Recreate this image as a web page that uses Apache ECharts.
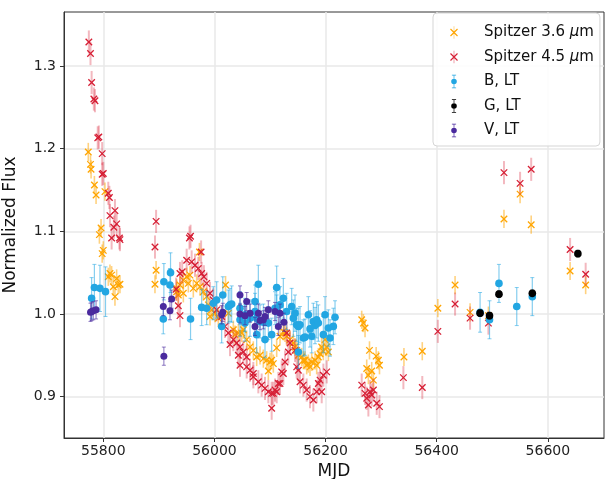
<!DOCTYPE html>
<html><head><meta charset="utf-8">
<script src="https://cdn.jsdelivr.net/npm/echarts@6/dist/echarts.min.js"></script>
<style>html,body{margin:0;padding:0;background:#fff}#c{width:606px;height:479px}</style>
</head><body><div id="c"></div>
<script>
// ---------- data ----------
const xTicks = [55800, 56000, 56200, 56400, 56600];
const yTicks = [0.9, 1.0, 1.1, 1.2, 1.3];

const s36Mjd = [55773,55777,55778,55784,55787,55803,55793,55796,55798,55800,55809,55812,55815,55818,55821,55824,55827,55830,
  55893,55895,
  55932,55932,55935,55938,55944,55944,55950,55953,55956,55962,55968,55973,55974,55980,55986,55989,55992,55995,56001,56007,56020,
  56025,56034,56037,56043,56049,56052,56058,56064,56070,56076,56082,56088,56094,56097,56100,56103,56106,56112,56118,56124,56127,56130,56136,56142,56145,56148,56151,56157,56160,56163,56166,56169,56172,56175,56181,56184,56187,56190,56193,56196,56199,56202,56205,
  56265,56268,56271,56274,56277,56279,56283,56286,56291,56295,56297,56341,56374,56402,56433,56460,56493,56521,56550,56570,56640,56668];
const s36Flux = [1.196,1.181,1.175,1.156,1.144,1.148,1.096,1.104,1.073,1.077,1.045,1.049,1.047,1.033,1.021,1.043,1.035,1.036,
  1.036,1.053,
  1.031,1.027,1.023,1.035,1.041,1.025,1.045,1.037,1.047,1.031,1.037,1.075,1.033,1.027,1.021,1.011,0.997,1.005,1.001,0.995,1.035,
  1.001,0.981,0.975,0.977,0.977,0.981,0.969,0.960,0.956,0.948,0.950,0.946,0.944,0.931,0.942,0.944,0.940,0.959,0.973,0.979,0.977,0.973,0.969,0.965,0.960,0.956,0.950,0.948,0.944,0.944,0.938,0.940,0.936,0.942,0.944,0.938,0.948,0.952,0.960,0.955,0.969,0.960,0.954,
  0.993,0.989,0.983,0.934,0.926,0.956,0.931,0.920,0.949,0.944,0.938,0.948,0.955,1.007,1.035,1.002,0.998,1.115,1.145,1.108,1.052,1.035];
const s36Err = s36Mjd.map(() => 0.011);

const s45Mjd = [55774,55777,55779,55783,55785,55790,55792,55798,55798,55800,55809,55811,55812,55815,55819,55821,55824,55829,55830,
  55893,55895,
  55931,55935,55938,55938,55942,55950,55955,55957,55959,55965,55971,55976,55977,55981,55986,55992,55998,56004,56013,56019,56025,56028,56034,56040,56043,56046,56046,56052,56058,56058,56064,56070,56070,56079,56085,56091,56097,56103,56103,56106,56109,56112,56115,56118,56121,56124,56127,56130,56133,56136,56145,56148,56151,56154,56160,56166,56172,56178,56184,56187,56190,56193,56196,56202,
  56265,56271,56274,56277,56280,56283,56286,56292,56297,56340,56374,56402,56433,56460,56493,56521,56550,56570,56640,56668];
const s45Flux = [1.329,1.315,1.280,1.260,1.258,1.213,1.214,1.194,1.169,1.170,1.146,1.141,1.119,1.092,1.105,1.125,1.109,1.092,1.090,
  1.081,1.112,
  1.030,1.010,0.998,1.049,1.051,1.065,1.092,1.094,1.063,1.059,1.055,1.075,1.049,1.045,1.037,1.025,1.017,1.005,0.997,0.985,0.977,0.963,0.969,0.965,0.950,0.960,0.938,0.954,0.948,0.936,0.932,0.924,0.928,0.918,0.914,0.910,0.906,0.904,0.886,0.904,0.908,0.906,0.916,0.916,0.930,0.928,0.942,0.977,0.954,0.965,0.956,0.936,0.932,0.918,0.914,0.908,0.900,0.896,0.906,0.916,0.920,0.906,0.926,0.930,
  0.914,0.904,0.898,0.890,0.906,0.902,0.908,0.892,0.888,0.923,0.911,0.979,1.012,0.995,0.989,1.171,1.158,1.175,1.078,1.048];
const s45Err = s45Mjd.map(() => 0.014);

const bMjd = [55779,55784,55794,55804,
  55908,55909,55920,55921,55957,55977,55986,55998,56004,56013,56015,56025,56028,56031,56046,56046,56055,56055,56064,56073,56073,56076,56076,56079,56082,56088,56091,56097,56103,56109,56112,56112,56118,56124,56130,56139,56142,56145,56148,56151,56151,56154,56160,56163,56169,56172,56175,56178,56181,56184,56187,56196,56199,56205,56208,56214,56217,
  56478,56495,56512,56544,56572];
const bFlux = [1.019,1.032,1.031,1.027,
  0.994,1.039,1.035,1.050,0.994,1.008,1.007,1.013,1.017,0.985,1.023,1.009,1.011,1.012,0.993,1.007,0.999,0.989,0.995,1.003,1.015,0.995,0.975,1.036,0.991,0.990,0.969,0.989,0.975,1.007,1.032,1.003,1.011,1.019,1.003,1.009,0.995,1.001,0.987,0.954,0.985,0.987,0.971,0.972,0.999,0.982,0.973,0.991,0.986,0.993,0.989,0.975,0.999,0.983,0.971,0.985,0.996,
  1.002,0.993,1.037,1.009,1.021];
const bErr = [0.025,0.028,0.028,0.03,
  0.018,0.022,0.02,0.024,0.025,0.022,0.02,0.02,0.022,0.02,0.022,0.02,0.02,0.022,0.02,0.02,0.02,0.022,0.022,0.022,0.02,0.02,0.022,0.023,0.02,0.022,0.022,0.02,0.02,0.02,0.026,0.02,0.022,0.024,0.022,0.022,0.022,0.022,0.02,0.02,0.022,0.022,0.022,0.022,0.022,0.022,0.02,0.022,0.022,0.022,0.022,0.022,0.022,0.022,0.022,0.022,0.02,
  0.024,0.023,0.023,0.023,0.023];

const gMjd = [56478,56495,56512,56572,56654];
const gFlux = [1.001,0.998,1.024,1.025,1.073];
const gErr = [0.004,0.004,0.004,0.004,0.004];

const vMjd = [55777,55779,55782,55787,
  55908,55909,55920,55923,56013,56015,56046,56046,56055,56058,56064,56073,56079,56082,56088,56091,56097,56109,56115,56118,56125];
const vFlux = [1.002,1.003,1.004,1.005,
  1.009,0.949,1.004,1.018,0.999,1.002,1.023,1.000,0.998,1.015,1.001,0.985,1.001,0.992,0.993,0.997,1.005,1.003,0.985,1.001,0.990];
const vErr = vMjd.map(() => 0.011);

// ---------- rendering ----------
function rows(m, f, e) { return m.map((x, i) => [x, f[i], e[i]]); }

function errRender(color, capHalf, width) {
  return function (params, api) {
    const x = api.value(0), y = api.value(1), e = api.value(2);
    const t = api.coord([x, y + e]), b = api.coord([x, y - e]);
    const ch = [{ type: 'line', shape: { x1: t[0], y1: t[1], x2: b[0], y2: b[1] }, style: { stroke: color, lineWidth: width } }];
    if (capHalf > 0) {
      ch.push({ type: 'line', shape: { x1: t[0] - capHalf, y1: t[1], x2: t[0] + capHalf, y2: t[1] }, style: { stroke: color, lineWidth: 1 } });
      ch.push({ type: 'line', shape: { x1: b[0] - capHalf, y1: b[1], x2: b[0] + capHalf, y2: b[1] }, style: { stroke: color, lineWidth: 1 } });
    }
    return { type: 'group', children: ch };
  };
}
function xRender(color, size, lw) {
  return function (params, api) {
    const p = api.coord([api.value(0), api.value(1)]);
    const h = size / 2;
    return { type: 'group', children: [
      { type: 'line', shape: { x1: p[0] - h, y1: p[1] - h, x2: p[0] + h, y2: p[1] + h }, style: { stroke: color, lineWidth: lw } },
      { type: 'line', shape: { x1: p[0] - h, y1: p[1] + h, x2: p[0] + h, y2: p[1] - h }, style: { stroke: color, lineWidth: lw } }
    ] };
  };
}
function dotRender(color, r) {
  return function (params, api) {
    const p = api.coord([api.value(0), api.value(1)]);
    return { type: 'circle', shape: { cx: p[0], cy: p[1], r: r }, style: { fill: color } };
  };
}

const C36 = '#ffa500', C45 = '#d61f35', CB = '#22a6e2', CG = '#000000', CV = '#4a2a9e';
const N36 = 'Spitzer 3.6 μm', N45 = 'Spitzer 4.5 μm', NB = 'B, LT', NG = 'G, LT', NV = 'V, LT';

const box = 'M0,0L0.01,0.01Z M20,20L19.99,19.99Z ';
const xIcon = 'path://' + box +
  'M4.43,5.57L14.43,15.57L15.57,14.43L5.57,4.43Z ' +
  'M14.43,4.43L4.43,14.43L5.57,15.57L15.57,5.57Z ' +
  'M9.7,1L9.7,19L10.3,19L10.3,1Z';
const dotIcon = 'path://' + box +
  'M6,10A4,4 0 1,0 14,10A4,4 0 1,0 6,10Z ' +
  'M9.5,1L9.5,6.5L10.5,6.5L10.5,1Z M9.5,13.5L9.5,19L10.5,19L10.5,13.5Z ' +
  'M7,0.5L7,1.5L13,1.5L13,0.5Z M7,18.5L7,19.5L13,19.5L13,18.5Z';

function custom(name, data, render, z) {
  return { type: 'custom', name: name, coordinateSystem: 'cartesian2d', data: data, renderItem: render,
    encode: { x: 0, y: 1 }, animation: false, silent: true, z: z };
}

const chart = echarts.init(document.getElementById('c'), null, { renderer: 'canvas' });
const FONT = 'DejaVu Sans';
chart.setOption({
  animation: false,
  backgroundColor: '#fff',
  grid: { left: 64, right: 2, top: 12, bottom: 41, outerBoundsMode: 'none', containLabel: false,
    show: true, borderColor: '#333', borderWidth: 1, backgroundColor: 'transparent' },
  xAxis: {
    type: 'value', min: 55729.3, max: 56701,
    name: 'MJD', nameLocation: 'middle', nameGap: 24,
    nameTextStyle: { fontSize: 17, color: '#111', fontFamily: FONT },
    axisLine: { show: true, lineStyle: { color: '#333', width: 1 } },
    axisTick: { show: true, length: 4, customValues: xTicks, lineStyle: { color: '#333' } },
    axisLabel: { customValues: xTicks, fontSize: 14, color: '#222', margin: 6, fontFamily: FONT, formatter: v => String(v) },
    splitLine: { show: true, lineStyle: { color: '#e8e8e8', width: 1.5 } }
  },
  yAxis: {
    type: 'value', min: 0.85, max: 1.3653,
    name: 'Normalized Flux', nameLocation: 'middle', nameGap: 45,
    nameTextStyle: { fontSize: 17, color: '#111', fontFamily: FONT },
    axisLine: { show: true, lineStyle: { color: '#333', width: 1 } },
    axisTick: { show: true, length: 4, customValues: yTicks, lineStyle: { color: '#333' } },
    axisLabel: { customValues: yTicks, fontSize: 14, color: '#222', margin: 8, fontFamily: FONT, formatter: v => v.toFixed(1) },
    splitLine: { show: true, lineStyle: { color: '#e8e8e8', width: 1.5 } }
  },
  legend: {
    orient: 'vertical', left: 433, top: 13,
    padding: [12, 6, 8, 14], itemWidth: 14, itemHeight: 14, itemGap: 9.5,
    backgroundColor: 'rgba(255,255,255,0.85)', borderColor: '#d5d5d5', borderWidth: 1, borderRadius: 4,
    selectedMode: false,
    textStyle: { fontSize: 15, color: '#111', fontFamily: FONT, padding: [0, 0, 0, 18],
      rich: { i: { fontSize: 15, fontStyle: 'italic', fontFamily: FONT, color: '#111' } } },
    formatter: n => n.replace('μ', '{i|μ}'),
    data: [
      { name: N36, icon: xIcon, itemStyle: { color: C36 } },
      { name: N45, icon: xIcon, itemStyle: { color: C45 } },
      { name: NB, icon: dotIcon, itemStyle: { color: CB } },
      { name: NG, icon: dotIcon, itemStyle: { color: CG } },
      { name: NV, icon: dotIcon, itemStyle: { color: CV } }
    ]
  },
  series: [
    custom(N36 + ' err', rows(s36Mjd, s36Flux, s36Err), errRender('rgba(255,165,0,0.5)', 0, 1.6), 2),
    custom(N36, rows(s36Mjd, s36Flux, s36Err), xRender(C36, 6.5, 1.3), 2),
    custom(N45 + ' err', rows(s45Mjd, s45Flux, s45Err), errRender('rgba(220,40,60,0.33)', 0, 2), 2),
    custom(N45, rows(s45Mjd, s45Flux, s45Err), xRender(C45, 6.5, 1.3), 2),
    custom(NB + ' err', rows(bMjd, bFlux, bErr), errRender('rgba(34,166,226,0.55)', 2, 1.2), 2),
    custom(NB, rows(bMjd, bFlux, bErr), dotRender(CB, 3.8), 2),
    custom(NG + ' err', rows(gMjd, gFlux, gErr), errRender('rgba(0,0,0,0.6)', 2, 1), 2),
    custom(NG, rows(gMjd, gFlux, gErr), dotRender(CG, 3.8), 2),
    custom(NV + ' err', rows(vMjd, vFlux, vErr), errRender('rgba(74,42,158,0.6)', 2, 1.1), 2),
    custom(NV, rows(vMjd, vFlux, vErr), dotRender(CV, 3.5), 2)
  ]
});
</script>
</body></html>
